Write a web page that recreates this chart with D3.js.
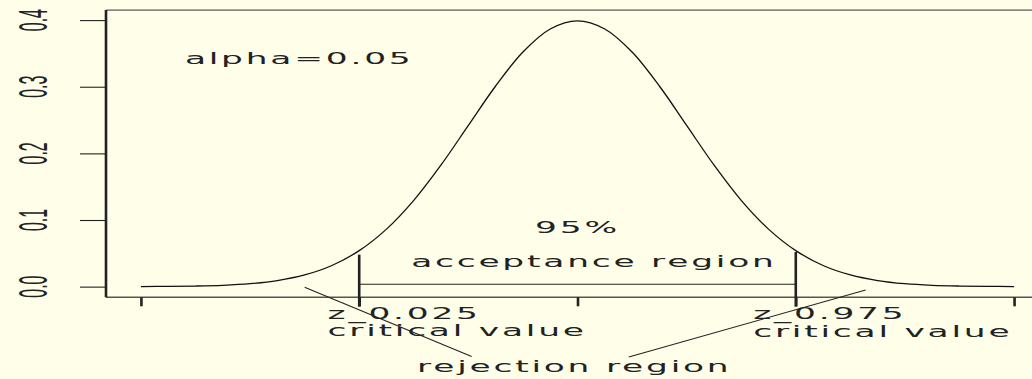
<!DOCTYPE html>
<html>
<head>
<meta charset="utf-8">
<script src="https://cdn.jsdelivr.net/npm/d3@7"></script>
<style>
  html, body { margin: 0; padding: 0; background: #FEFEE9; }
  svg { display: block; }
</style>
</head>
<body>
<svg id="chart" width="1032" height="379"></svg>
<script>
// Standard normal density, tabulated every 0.25 from -4 to 4
const zValues = [-4, -3.75, -3.5, -3.25, -3, -2.75, -2.5, -2.25, -2, -1.75, -1.5, -1.25, -1, -0.75, -0.5, -0.25,
                 0, 0.25, 0.5, 0.75, 1, 1.25, 1.5, 1.75, 2, 2.25, 2.5, 2.75, 3, 3.25, 3.5, 3.75, 4];
const densityValues = [0.0001, 0.0004, 0.0009, 0.0020, 0.0044, 0.0091, 0.0175, 0.0317, 0.0540, 0.0863, 0.1295, 0.1826, 0.2420, 0.3011, 0.3521, 0.3867,
                       0.3989, 0.3867, 0.3521, 0.3011, 0.2420, 0.1826, 0.1295, 0.0863, 0.0540, 0.0317, 0.0175, 0.0091, 0.0044, 0.0020, 0.0009, 0.0004, 0.0001];

// Axis ticks
const xTickValues = [-4, -2, 0, 2, 4];
const yTickValues = [0, 0.1, 0.2, 0.3, 0.4];
const yTickLabels = ["0.0", "0.1", "0.2", "0.3", "0.4"];

// Critical values and the marker segments drawn at them
const criticalValues = [-2, 2];
const criticalTops = [0.048, 0.052];
const criticalBottom = -0.03;
const acceptanceLineY = 0.0036;

// Pointer lines from the tails to the "rejection region" label: [x1, y1, x2, y2]
const pointerLines = [
  [-2.5, -0.001, -0.97, -0.105],
  [2.64, -0.005, 0.47, -0.1055]
];

// Annotations (data coordinates, anchor)
const annotations = [
  { text: "alpha=0.05",        x: -2.55, y: 0.334,   anchor: "middle" },
  { text: "95%",               x: 0.0,   y: 0.080,   anchor: "middle" },
  { text: "acceptance region", x: 0.15,  y: 0.030,   anchor: "middle" },
  { text: "z_0.025",           x: -2.29, y: -0.0485, anchor: "start" },
  { text: "critical value",    x: -2.29, y: -0.0735, anchor: "start" },
  { text: "z_0.975",           x: 1.61,  y: -0.0485, anchor: "start" },
  { text: "critical value",    x: 1.61,  y: -0.0750, anchor: "start" },
  { text: "rejection region",  x: -0.03, y: -0.1275, anchor: "middle" }
];

const svg = d3.select("#chart");
const W = 1032, H = 379;
const textStretch = 2.15;
const labelStretch = 2.5;
const ink = "#222";

const x = d3.scaleLinear().domain([-4.32, 4.32]).range([106, 1049]);
const y = d3.scaleLinear().domain([-0.016, 0.415]).range([297.3, 10.1]);

// Plot frame: top and bottom edges, heavy left edge
svg.append("line")
  .attr("x1", x(-4.32)).attr("x2", W).attr("y1", y(0.415)).attr("y2", y(0.415))
  .attr("stroke", "#5a5a5a").attr("stroke-width", 1.2);
svg.append("line")
  .attr("x1", x(-4.32)).attr("x2", W).attr("y1", y(-0.016)).attr("y2", y(-0.016))
  .attr("stroke", "#555").attr("stroke-width", 1.6);

// Y axis
const yAxis = d3.axisLeft(y).tickValues(yTickValues).tickSize(26).tickFormat("");
const yg = svg.append("g").attr("transform", `translate(${x(-4.32)},0)`).call(yAxis);
yg.select(".domain").remove();
yg.selectAll(".tick line").attr("stroke", ink).attr("stroke-width", 1.1);

svg.append("line")
  .attr("x1", x(-4.32)).attr("x2", x(-4.32)).attr("y1", y(0.415)).attr("y2", y(-0.016))
  .attr("stroke", ink).attr("stroke-width", 2.6);

svg.selectAll("text.ylab")
  .data(yTickValues)
  .join("text")
  .attr("class", "ylab")
  .attr("transform", d => `translate(46.5,${y(d)}) scale(${labelStretch},1) rotate(-90)`)
  .attr("text-anchor", "middle")
  .attr("font-family", "'Liberation Sans Narrow', 'Arial Narrow', 'Liberation Sans', sans-serif")
  .attr("font-size", 16)
  .attr("fill", ink)
  .text((d, i) => yTickLabels[i]);

// X axis ticks (no labels)
const xAxis = d3.axisBottom(x).tickValues(xTickValues).tickSize(9).tickFormat("");
const xg = svg.append("g").attr("transform", `translate(0,${y(-0.016)})`).call(xAxis);
xg.select(".domain").remove();
xg.selectAll(".tick line").attr("stroke", ink).attr("stroke-width", 2.6);

// Density curve
const line = d3.line()
  .x((d, i) => x(zValues[i]))
  .y(d => y(d))
  .curve(d3.curveCatmullRom.alpha(0.5));
svg.append("path")
  .datum(densityValues)
  .attr("d", line)
  .attr("fill", "none")
  .attr("stroke", "#111")
  .attr("stroke-width", 1.3);

// Critical value markers
svg.selectAll("line.crit")
  .data(criticalValues)
  .join("line")
  .attr("class", "crit")
  .attr("x1", d => x(d)).attr("x2", d => x(d))
  .attr("y1", y(criticalBottom)).attr("y2", (d, i) => y(criticalTops[i]))
  .attr("stroke", ink).attr("stroke-width", 2.6);

// Acceptance interval line
svg.append("line")
  .attr("x1", x(criticalValues[0])).attr("x2", x(criticalValues[1]))
  .attr("y1", y(acceptanceLineY)).attr("y2", y(acceptanceLineY))
  .attr("stroke", ink).attr("stroke-width", 1.1);

// Pointer lines
svg.selectAll("line.pointer")
  .data(pointerLines)
  .join("line")
  .attr("class", "pointer")
  .attr("x1", d => x(d[0])).attr("y1", d => y(d[1]))
  .attr("x2", d => x(d[2])).attr("y2", d => y(d[3]))
  .attr("stroke", ink).attr("stroke-width", 1.1);

// Text annotations
svg.selectAll("text.note")
  .data(annotations)
  .join("text")
  .attr("class", "note")
  .attr("transform", d => `translate(${x(d.x)},${y(d.y)}) scale(${textStretch},1)`)
  .attr("text-anchor", d => d.anchor)
  .attr("font-family", "'DejaVu Sans', sans-serif")
  .attr("font-size", 16)
  .attr("letter-spacing", 1.3)
  .attr("fill", ink)
  .text(d => d.text);
</script>
</body>
</html>
